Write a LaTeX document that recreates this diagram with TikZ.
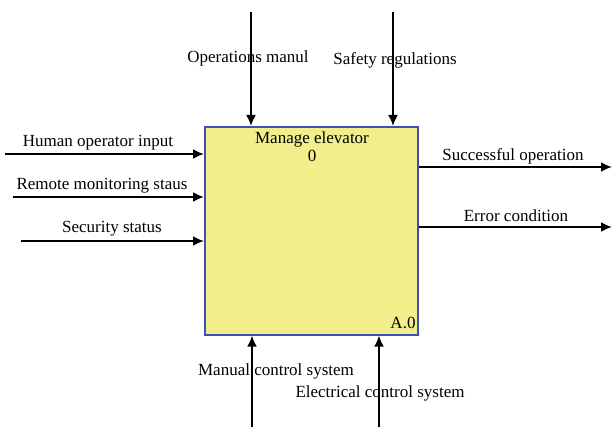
\documentclass[tikz,border=0pt]{standalone}
\usepackage{fontspec}
\setmainfont{Liberation Serif}
\usetikzlibrary{arrows.meta}
\definecolor{boxfill}{RGB}{242,238,140}
\definecolor{boxline}{RGB}{60,80,185}
\begin{document}
\begin{tikzpicture}[x=1pt,y=-1pt,
  lbl/.style={font=\fontsize{17}{20}\selectfont,inner sep=0pt},
  arr/.style={draw=black,line width=2pt,-{Latex[length=11pt,width=10pt]}}]
\useasboundingbox (0,0) rectangle (612,427);
\node[draw=boxline,fill=boxfill,line width=1.6pt,minimum width=213pt,minimum height=208pt,inner sep=0pt,anchor=north west] (box) at (204,126) {};
\node[lbl] (title) at (312,139) {Manage elevator};
\node[lbl] (num) at (312,156) {0};
\node[lbl] (a0) at (403,323) {A.0};
% inputs
\coordinate (i1) at (5,154);
\coordinate (i2) at (13,197);
\coordinate (i3) at (21,241);
\draw[arr] (i1) -- (box.west |- i1);
\draw[arr] (i2) -- (box.west |- i2);
\draw[arr] (i3) -- (box.west |- i3);
\node[lbl] (l1) at (98,143) {Human operator input};
\node[lbl] (l2) at (102,186) {Remote monitoring staus};
\node[lbl] (l3) at (112,229) {Security status};
% controls
\coordinate (c1) at (251,12);
\coordinate (c2) at (393,12);
\draw[arr] (c1) -- (box.north -| c1);
\draw[arr] (c2) -- (box.north -| c2);
\node[lbl] (lc1) at (248,58) {Operations manul};
\node[lbl] (lc2) at (395,60) {Safety regulations};
% outputs
\coordinate (o1) at (612,167);
\coordinate (o2) at (612,227);
\draw[arr] (box.east |- o1) -- (o1);
\draw[arr] (box.east |- o2) -- (o2);
\node[lbl] (lo1) at (513,156) {Successful operation};
\node[lbl] (lo2) at (516,216) {Error condition};
% mechanisms
\coordinate (m1) at (252,427);
\coordinate (m2) at (379,427);
\draw[arr] (m1) -- (box.south -| m1);
\draw[arr] (m2) -- (box.south -| m2);
\node[lbl] (lm1) at (276,371) {Manual control system};
\node[lbl] (lm2) at (380,393) {Electrical control system};
\end{tikzpicture}
\end{document}
